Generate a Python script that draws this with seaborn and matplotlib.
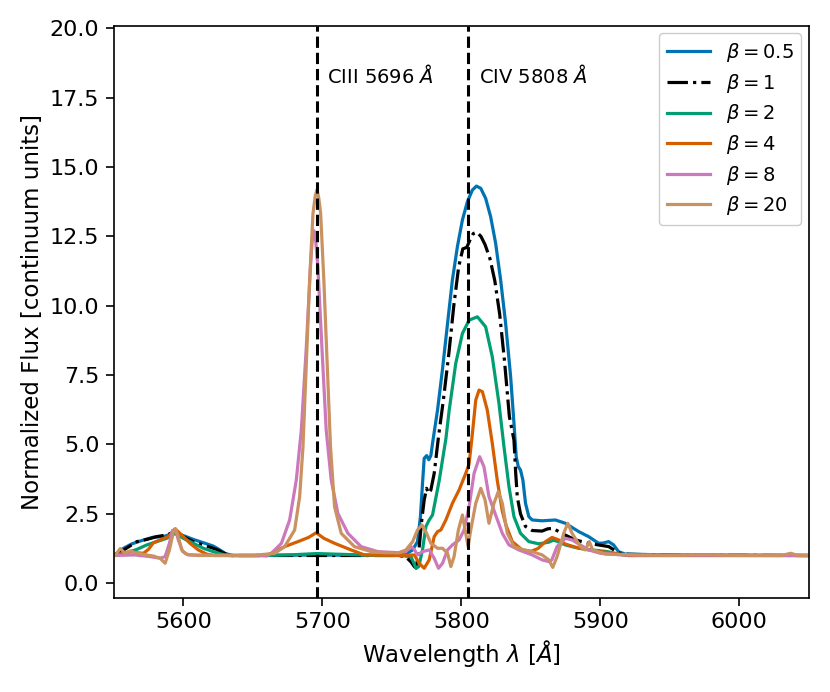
import matplotlib
matplotlib.use("Agg")
import matplotlib.pyplot as plt
import seaborn as sns
import numpy as np

# ---------------- data ----------------
wl_b05 = [5550, 5556.9, 5562.9, 5570.1, 5578.4, 5585.6, 5592.8, 5598.7, 5607.1, 5615.5, 5621.4, 5626.2,
          5629.8, 5635, 5660, 5696, 5730, 5755, 5760, 5764.9, 5768.4, 5770.5, 5772.0, 5773.2, 5775,
          5776.5, 5778, 5779.2, 5782.8, 5786.3, 5790, 5793.5, 5797.1, 5800.7, 5804.3, 5807.9, 5810.8,
          5813.9, 5817.4, 5821, 5824.6, 5828.2, 5831.8, 5835.4, 5837.8, 5839.4, 5840.9, 5842.5, 5844.2,
          5846.1, 5848.5, 5850.9, 5858, 5867.6, 5874.8, 5884.4, 5891.5, 5898.7, 5902, 5905.9, 5909.5,
          5913, 5917.8, 5950, 6000, 6050]
fl_b05 = [1.0, 1.26, 1.42, 1.54, 1.66, 1.68, 1.8, 1.74, 1.58, 1.44, 1.34, 1.2,
          1.08, 1.0, 1.0, 1.02, 1.0, 1.02, 1.05, 1.2, 1.5, 2.4, 3.6, 4.5, 4.6,
          4.45, 4.6, 5.04, 6.24, 7.68, 9.36, 10.93, 12.13, 13.09, 13.75, 14.17, 14.31,
          14.23, 13.87, 13.21, 12.25, 10.93, 9.36, 7.44, 5.76, 4.56, 4.2, 4.08, 3.72,
          2.88, 2.4, 2.28, 2.25, 2.28, 2.16, 1.86, 1.68, 1.44, 1.45, 1.5, 1.38,
          1.14, 1.05, 1.02, 1.01, 1.0]

wl_b1 = [5550, 5557, 5566.5, 5573.6, 5580.8, 5588, 5594, 5599.9, 5607.1, 5616.7, 5623.8, 5628.6, 5633,
         5660, 5696, 5730, 5755, 5760, 5763.7, 5766.1, 5767.5, 5769.6, 5771.5, 5773.2, 5774.9, 5776.3,
         5778, 5780.4, 5783.5, 5787, 5791, 5794.5, 5798, 5801, 5803.8, 5806, 5808.5, 5811, 5814, 5817,
         5820.5, 5824, 5827.5, 5831, 5834.5, 5837.8, 5839, 5840.2, 5842.5, 5846, 5850.9, 5858, 5862,
         5866, 5872, 5882, 5891.5, 5898.7, 5906, 5910.7, 5915, 5950, 6050]
fl_b1 = [1.0, 1.2, 1.5, 1.58, 1.68, 1.74, 1.86, 1.68, 1.5, 1.34, 1.22, 1.1, 1.0,
         1.0, 1.0, 1.0, 1.0, 0.95, 0.77, 0.6, 0.55, 1.3, 2.3, 3.0, 3.42, 3.24,
         3.36, 3.96, 5.28, 6.6, 8.3, 10.0, 11.4, 12.05, 12.1, 12.35, 12.6, 12.65, 12.5, 12.2,
         11.7, 10.9, 9.7, 8.0, 6.0, 5.16, 4.0, 3.1, 2.5, 2.05, 1.9, 1.88, 1.96,
         1.98, 1.8, 1.56, 1.44, 1.38, 1.32, 1.17, 1.05, 1.01, 1.0]

wl_b2 = [5550, 5559.3, 5566.5, 5573.6, 5580.8, 5588, 5594, 5599.9, 5607.1, 5614.3, 5621.4, 5627.4, 5632,
         5660, 5680, 5696, 5715, 5740, 5755, 5763.7, 5767.3, 5769.3, 5772, 5774.4, 5776.8, 5779.2,
         5784, 5788.8, 5791.2, 5795.9, 5800.7, 5805.5, 5811.5, 5817.4, 5822.2, 5827, 5830.6, 5834.2,
         5837.8, 5842.5, 5848.5, 5855.7, 5862.9, 5866, 5868.5, 5874.8, 5884.4, 5894, 5905, 5913, 5920,
         6050]
fl_b2 = [1.0, 1.1, 1.22, 1.38, 1.5, 1.62, 1.8, 1.62, 1.44, 1.26, 1.14, 1.05, 1.0,
         1.0, 1.03, 1.07, 1.04, 1.0, 1.0, 0.96, 0.54, 0.6, 1.2, 2.04, 2.28, 2.46,
         3.7, 5.2, 6.24, 7.92, 9.0, 9.48, 9.6, 9.24, 8.16, 6.48, 4.92, 3.48,
         2.4, 1.8, 1.5, 1.42, 1.48, 1.55, 1.52, 1.38, 1.26, 1.2, 1.14, 1.05, 1.0,
         1.0]

wl_b4 = [5550, 5561.7, 5566, 5571.2, 5574.8, 5578.4, 5583.2, 5589.2, 5594, 5598.7, 5604.7, 5610.7,
         5616.7, 5622, 5660, 5672.8, 5682.4, 5690, 5695.5, 5701, 5708.7, 5720.6, 5730.2, 5755, 5766.1,
         5769.6, 5773.2, 5776.8, 5780.4, 5782.8, 5785.2, 5788.8, 5793.5, 5798.3, 5803.1, 5805.5,
         5807.9, 5810.3, 5812.7, 5815.1, 5818.6, 5822.2, 5825.8, 5829.4, 5832, 5836.6, 5843.7, 5850,
         5855, 5860.5, 5865.2, 5870, 5874.8, 5882, 5891.5, 5903.5, 5913, 5920, 6050]
fl_b4 = [1.0, 1.14, 1.1, 1.08, 1.22, 1.46, 1.56, 1.68, 1.96, 1.74, 1.44, 1.2,
         1.05, 1.0, 1.0, 1.32, 1.5, 1.65, 1.82, 1.62, 1.44, 1.2, 1.02, 1.0, 1.02,
         0.72, 0.54, 0.84, 1.68, 1.86, 1.92, 2.28, 2.88, 3.36, 3.96, 4.3,
         5.4, 6.6, 6.96, 6.9, 6.24, 5.04, 3.7, 2.6, 2.1, 1.5, 1.2, 1.15,
         1.25, 1.5, 1.65, 1.56, 1.41, 1.3, 1.2, 1.12, 1.05, 1.0, 1.0]

wl_b8 = [5550, 5565, 5576, 5583.2, 5586.8, 5589.9, 5592, 5594.4, 5596.3, 5599.5, 5603.5, 5640, 5660,
         5663.3, 5670.5, 5676.4, 5681.2, 5684.8, 5688.4, 5691.5, 5692.7, 5693.9, 5695.2, 5696.7,
         5699.6, 5702.7, 5706.3, 5711.1, 5718.3, 5727.8, 5739.8, 5755, 5760, 5763.7, 5766, 5768.4,
         5772, 5776.8, 5780.4, 5783.5, 5786.4, 5790, 5793.5, 5798.3, 5801.9, 5805.5, 5809.1, 5813.1,
         5816.2, 5819.8, 5824.6, 5829.4, 5834.2, 5841.3, 5850.9, 5858.1, 5862.9, 5865, 5868.8,
         5874.8, 5879.6, 5885.6, 5891.5, 5900, 5915, 6050]
fl_b8 = [1.0, 1.02, 0.96, 0.9, 0.96, 1.44, 1.9, 1.92, 1.56, 1.14, 1.02, 1.0, 1.0,
         1.08, 1.44, 2.28, 3.72, 5.52, 8.52, 11.53, 12.4, 12.7, 12.3, 11.41,
         8.52, 5.52, 3.72, 2.52, 1.8, 1.32, 1.14, 1.1, 1.14, 1.32, 1.22, 1.02,
         1.14, 1.2, 0.9, 0.54, 0.72, 1.2, 1.38, 1.56, 1.92, 2.76, 3.96, 4.56,
         4.2, 3.12, 2.46, 1.8, 1.38, 1.2, 1.02, 0.84, 0.78, 0.84, 1.32,
         1.62, 1.56, 1.38, 1.2, 1.08, 1.02, 1.0]

wl_b20 = [5550, 5551, 5554.5, 5558, 5561.7, 5565.3, 5571.2, 5578.4, 5583.2, 5586.8, 5589.9, 5592.8,
          5594.4, 5596.3, 5598.7, 5602.3, 5610, 5650, 5665.7, 5672.8, 5680, 5683.6, 5686, 5688.4,
          5690.8, 5693.2, 5694.8, 5696, 5697.3, 5698.7, 5701, 5703.4, 5705.8, 5708.7, 5713.5, 5723,
          5735, 5744.5, 5755, 5760, 5764.9, 5768.4, 5771.6, 5774.4, 5778, 5782.8, 5786.4, 5790,
          5792.4, 5794.7, 5797.8, 5800.7, 5803.1, 5804.8, 5806.7, 5810.3, 5813.9, 5817, 5819.8,
          5823.4, 5826.5, 5829.4, 5833, 5837.8, 5843.7, 5850.9, 5858.1, 5862.9, 5865.7, 5868.8,
          5873.6, 5876.5, 5879.6, 5885.6, 5889.1, 5892, 5894.4, 5903.5, 5927, 5950, 5975, 6000,
          6030, 6037, 6042, 6050]
fl_b20 = [1.0, 1.0, 1.25, 1.08, 1.17, 1.1, 1.04, 0.98, 0.9, 0.72, 1.2, 1.86,
          1.96, 1.68, 1.2, 1.04, 1.0, 1.0, 1.08, 1.32, 1.92, 3.12, 4.92, 7.92,
          10.93, 13.33, 13.95, 14.17, 13.9, 13.33, 10.93, 7.92, 4.92, 2.76, 1.8, 1.32,
          1.14, 1.1, 1.1, 1.2, 1.5, 1.92, 2.1, 1.86, 1.44, 1.26, 1.26, 1.08,
          0.6, 0.96, 1.92, 2.46, 1.8, 1.32, 1.92, 2.88, 3.42, 3.0, 2.16,
          2.88, 3.3, 2.88, 1.8, 1.32, 1.22, 1.14, 1.02, 0.84, 0.57, 0.96,
          1.8, 2.16, 1.8, 1.32, 1.2, 1.5, 1.2, 1.05, 1.02, 1.0, 1.03, 1.0,
          1.0, 1.08, 1.0, 1.0]

labels = [r"$\beta=0.5$", r"$\beta=1$", r"$\beta=2$", r"$\beta=4$", r"$\beta=8$", r"$\beta=20$"]
line_wl = [5696, 5805]
line_text = [r"CIII 5696 $\AA$", r"CIV 5808 $\AA$"]

# ---------------- plot ----------------
pal = sns.color_palette("colorblind")
colors = [pal[0], "black", pal[2], pal[3], pal[4], pal[5]]
styles = ["-", "-.", "-", "-", "-", "-"]
series = [(wl_b05, fl_b05), (wl_b1, fl_b1), (wl_b2, fl_b2),
          (wl_b4, fl_b4), (wl_b8, fl_b8), (wl_b20, fl_b20)]

plt.rcParams["font.family"] = ["DejaVu Sans"]
plt.rcParams["mathtext.fontset"] = "dejavusans"

fig = plt.figure(figsize=(8.3, 6.92), dpi=100)
ax = fig.add_axes([0.1373, 0.1363, 0.8373, 0.8266])

for (wl, fl), lab, col, ls in zip(series, labels, colors, styles):
    sns.lineplot(x=wl, y=fl, ax=ax, color=col, linestyle=ls, linewidth=2.3,
                 label=lab, sort=False, estimator=None)

for wl0, txt in zip(line_wl, line_text):
    ax.axvline(wl0, color="black", linestyle="--", linewidth=2.2)
    ax.text(wl0 + 7.5, 18.3, txt, fontsize=14, va="center", ha="left")

ax.set_xlim(5550, 6050)
ax.set_ylim(-0.52, 20.09)
ax.set_xlabel(r"Wavelength $\lambda$ [$\AA$]", fontsize=16.5)
ax.set_ylabel("Normalized Flux [continuum units]", fontsize=16.5)
ax.tick_params(labelsize=16, direction="out", length=5.5, width=1.2, pad=5)
for sp in ax.spines.values():
    sp.set_linewidth(1.2)

ax.legend(loc="upper right", fontsize=14, handlelength=2.2, labelspacing=0.39,
          framealpha=1.0, borderaxespad=0.4)

fig.savefig("out.png", dpi=100)
